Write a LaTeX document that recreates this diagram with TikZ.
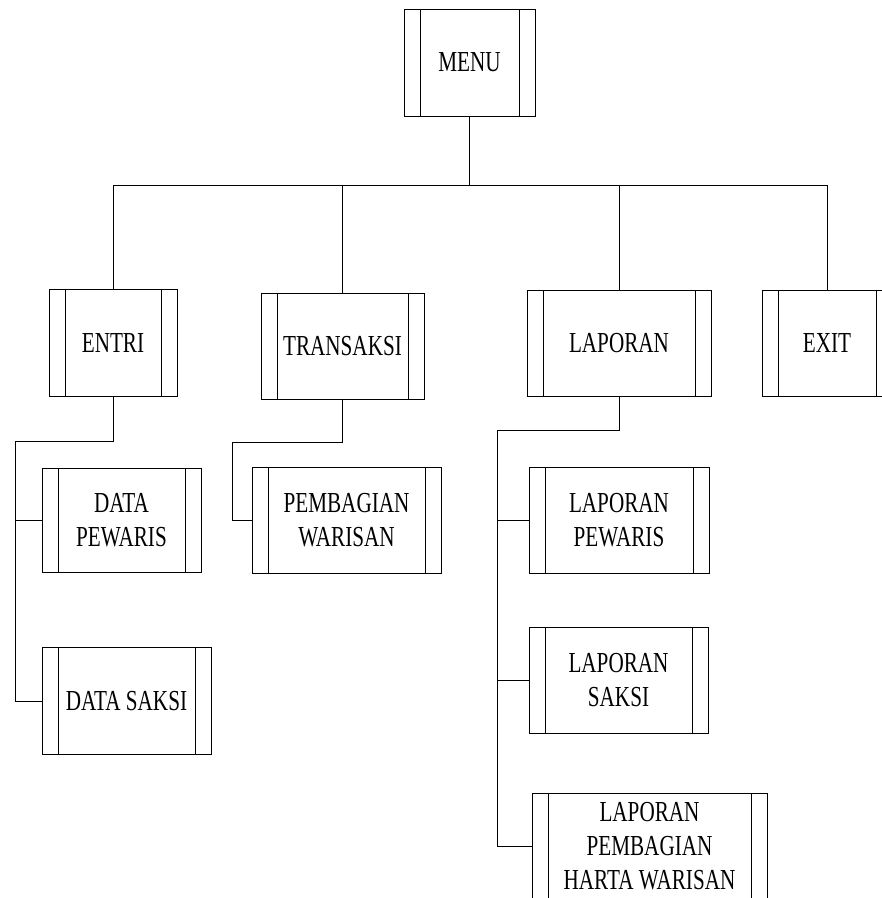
\documentclass[tikz,border=0pt]{standalone}
\usepackage{fontspec}
\setmainfont{Liberation Serif}[FakeStretch=0.73]
\tikzset{
  proc/.style={draw, line width=0.8pt, inner sep=0pt, align=center,
    font=\fontsize{29}{34}\selectfont,
    path picture={
      \draw[line width=0.8pt] ([xshift=16pt]path picture bounding box.north west) -- ([xshift=16pt]path picture bounding box.south west);
      \draw[line width=0.8pt] ([xshift=-16pt]path picture bounding box.north east) -- ([xshift=-16pt]path picture bounding box.south east);
    }},
  conn/.style={line width=0.8pt}
}
\begin{document}
\begin{tikzpicture}[x=1pt,y=-1pt]
\useasboundingbox (0,0) rectangle (882,898);
\node[proc, minimum width=131pt, minimum height=107pt] (menu) at (469.5,62.5) {MENU};
\node[proc, minimum width=128pt, minimum height=107pt] (entri) at (113,342.5) {ENTRI};
\node[proc, minimum width=163pt, minimum height=106pt] (trans) at (342.5,346) {TRANSAKSI};
\node[proc, minimum width=184pt, minimum height=106pt] (lap) at (619,343) {LAPORAN};
\node[proc, minimum width=130pt, minimum height=106pt] (exit) at (827,343) {EXIT};
\node[proc, minimum width=159pt, minimum height=104pt] (dp) at (121.5,520) {DATA\\PEWARIS};
\node[proc, minimum width=169pt, minimum height=107pt] (ds) at (126.5,701) {DATA SAKSI};
\node[proc, minimum width=189pt, minimum height=106pt] (pw) at (346.5,520) {PEMBAGIAN\\WARISAN};
\node[proc, minimum width=180pt, minimum height=106pt] (lp) at (619,520) {LAPORAN\\PEWARIS};
\node[proc, minimum width=179pt, minimum height=106pt] (ls) at (618.5,680) {LAPORAN\\SAKSI};
\node[proc, minimum width=235pt, minimum height=106pt] (lphw) at (649.5,846) {LAPORAN\\PEMBAGIAN\\HARTA WARISAN};

\coordinate (bus) at (0,185);
\draw[conn] (menu.south) -- (menu.south |- bus);
\draw[conn] (entri.north) -- (entri.north |- bus) -- (exit.north |- bus) -- (exit.north);
\draw[conn] (trans.north) -- (trans.north |- bus);
\draw[conn] (lap.north) -- (lap.north |- bus);

\coordinate (e1) at (15,441);
\draw[conn] (entri.south) |- (e1) -- (e1 |- ds.west) -- (ds.west);
\draw[conn] (e1 |- dp.west) -- (dp.west);

\coordinate (t1) at (232,442);
\draw[conn] (trans.south) |- (t1) -- (t1 |- pw.west) -- (pw.west);

\coordinate (l1) at (497,430);
\draw[conn] (lap.south) |- (l1) -- (l1 |- lphw.west) -- (lphw.west);
\draw[conn] (l1 |- lp.west) -- (lp.west);
\draw[conn] (l1 |- ls.west) -- (ls.west);
\end{tikzpicture}
\end{document}
